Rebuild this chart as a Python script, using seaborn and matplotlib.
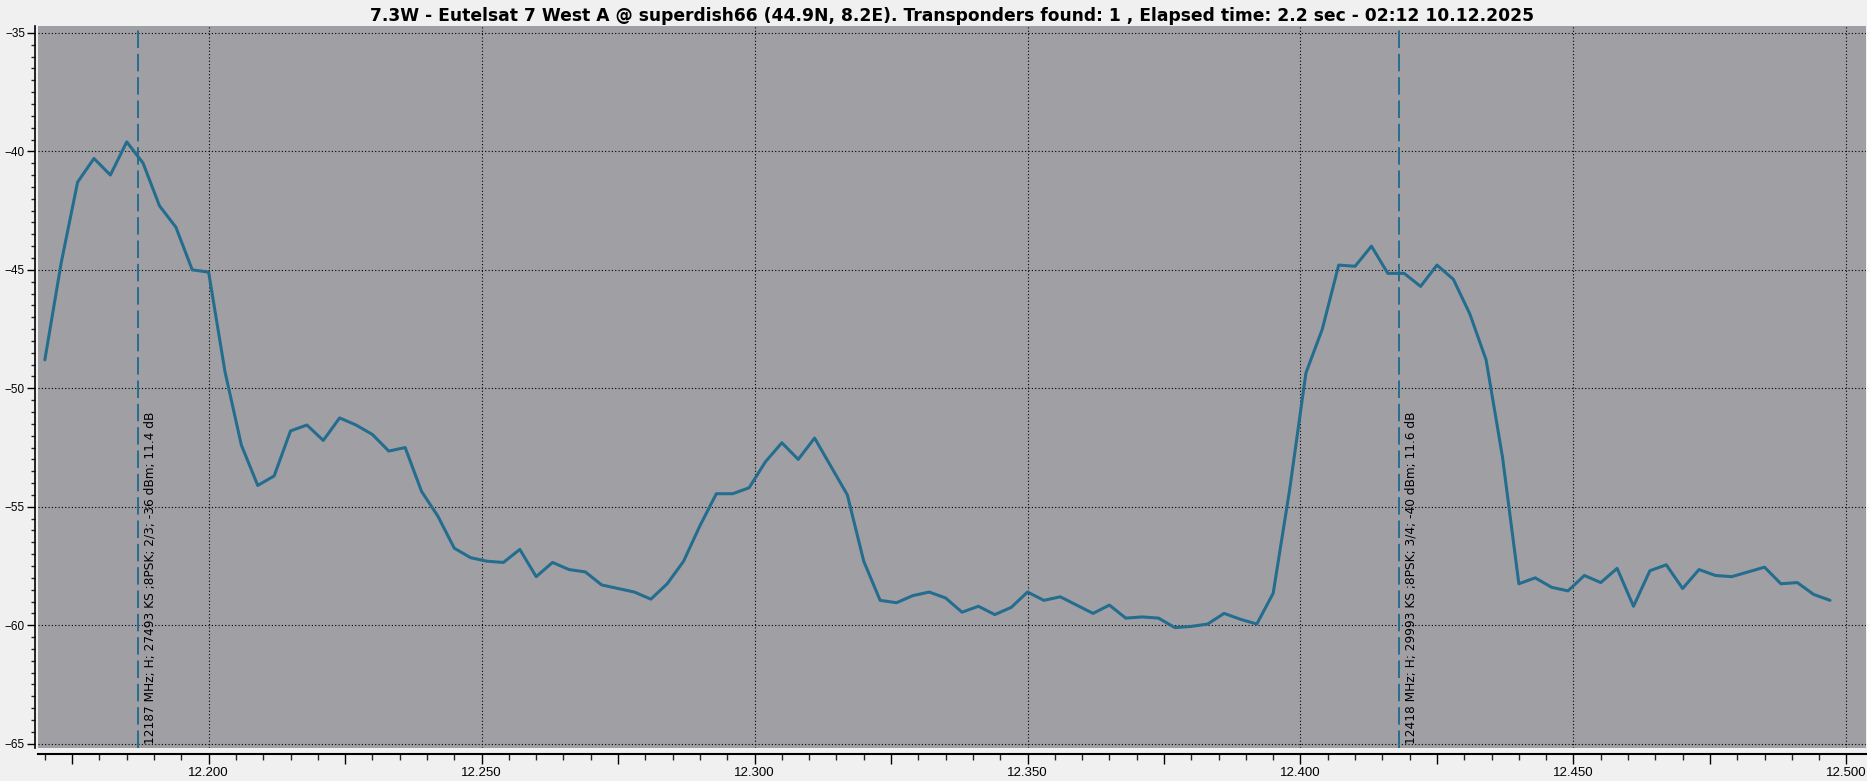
import numpy as np
import pandas as pd
import matplotlib
matplotlib.use("Agg")
import matplotlib.pyplot as plt
import matplotlib.ticker as mticker
import seaborn as sns

freq_mhz = [
    12170, 12173, 12176, 12179, 12182, 12185, 12188, 12191, 12194, 12197,
    12200, 12203, 12206, 12209, 12212, 12215, 12218, 12221, 12224, 12227,
    12230, 12233, 12236, 12239, 12242, 12245, 12248, 12251, 12254, 12257,
    12260, 12263, 12266, 12269, 12272, 12275, 12278, 12281, 12284, 12287,
    12290, 12293, 12296, 12299, 12302, 12305, 12308, 12311, 12314, 12317,
    12320, 12323, 12326, 12329, 12332, 12335, 12338, 12341, 12344, 12347,
    12350, 12353, 12356, 12359, 12362, 12365, 12368, 12371, 12374, 12377,
    12380, 12383, 12386, 12389, 12392, 12395, 12398, 12401, 12404, 12407,
    12410, 12413, 12416, 12419, 12422, 12425, 12428, 12431, 12434, 12437,
    12440, 12443, 12446, 12449, 12452, 12455, 12458, 12461, 12464, 12467,
    12470, 12473, 12476, 12479, 12482, 12485, 12488, 12491, 12494, 12497,
]
level_dbm = [
    -48.8, -44.7, -41.3, -40.3, -41.0, -39.6, -40.5, -42.3, -43.2, -45.0,
    -45.1, -49.3, -52.4, -54.1, -53.7, -51.8, -51.55, -52.2, -51.25, -51.55,
    -51.95, -52.65, -52.5, -54.35, -55.4, -56.75, -57.15, -57.3, -57.35, -56.8,
    -57.95, -57.35, -57.65, -57.75, -58.3, -58.45, -58.6, -58.9, -58.25, -57.3,
    -55.8, -54.45, -54.45, -54.2, -53.1, -52.3, -53.0, -52.1, -53.3, -54.5,
    -57.3, -58.95, -59.05, -58.75, -58.6, -58.85, -59.45, -59.2, -59.55, -59.25,
    -58.6, -58.95, -58.8, -59.15, -59.5, -59.15, -59.7, -59.65, -59.7, -60.1,
    -60.05, -59.95, -59.5, -59.75, -59.95, -58.65, -54.3, -49.35, -47.5, -44.8,
    -44.85, -44.0, -45.15, -45.15, -45.7, -44.8, -45.4, -46.85, -48.8, -52.9,
    -58.25, -58.0, -58.4, -58.55, -57.9, -58.2, -57.6, -59.2, -57.7, -57.45,
    -58.45, -57.65, -57.9, -57.95, -57.75, -57.55, -58.25, -58.2, -58.7, -58.95,
]

tp_freq_mhz = [12187, 12418]
tp_labels = [
    "12187 MHz; H; 27493 KS ;8PSK; 2/3; -36 dBm; 11.4 dB",
    "12418 MHz; H; 29993 KS ;8PSK; 3/4; -40 dBm; 11.6 dB",
]

title = ("7.3W - Eutelsat 7 West A @ superdish66 (44.9N, 8.2E). Transponders found: 1 , "
         "Elapsed time: 2.2 sec - 02:12 10.12.2025")

LINE_COLOR = "#256d8f"
PLOT_BG = "#a0a0a4"
FIG_BG = "#f0f0f0"

sns.set_theme(style="ticks")
plt.rcParams['font.family'] = ['Liberation Sans', 'DejaVu Sans']

df = pd.DataFrame({"freq": np.array(freq_mhz) / 1000.0, "level": level_dbm})

fig = plt.figure(figsize=(18.67, 7.81), dpi=100, facecolor=FIG_BG)
ax = fig.add_axes([0.0201, 0.0423, 0.9794, 0.9244])
ax.set_facecolor(PLOT_BG)

sns.lineplot(data=df, x="freq", y="level", ax=ax, color=LINE_COLOR, linewidth=2.2,
             zorder=3)

# transponder markers with their labels
for f, lab in zip(tp_freq_mhz, tp_labels):
    ax.axvline(f / 1000.0, color=LINE_COLOR, linewidth=1.4, linestyle=(0, (9, 3)), zorder=2)
    ax.annotate(lab, xy=(f / 1000.0, -65.15), xytext=(4, 2), textcoords="offset points",
                rotation=90, ha="left", va="bottom", fontsize=8.7, color="black",
                family="DejaVu Sans")

ax.set_xlim(12.16866, 12.5036)
ax.set_ylim(-65.18, -34.71)

ax.xaxis.set_major_locator(mticker.MultipleLocator(0.025))
ax.xaxis.set_minor_locator(mticker.MultipleLocator(0.005))
ax.xaxis.set_major_formatter(mticker.FuncFormatter(
    lambda v, p: f"{v:.3f}" if abs(round(v * 1000) % 50) == 0 else ""))
ax.yaxis.set_major_locator(mticker.MultipleLocator(5))
ax.yaxis.set_minor_locator(mticker.MultipleLocator(0.5))

for gx in np.arange(12.2, 12.51, 0.05):
    ax.axvline(gx, color="black", linewidth=0.8, linestyle=(0, (1, 2)), zorder=1)
for gy in range(-65, -34, 5):
    ax.axhline(gy, color="black", linewidth=0.8, linestyle=(0, (1, 2)), zorder=1)

ax.spines["top"].set_visible(False)
ax.spines["right"].set_visible(False)
ax.spines["left"].set_position(("outward", 2))
ax.spines["bottom"].set_position(("outward", 4))
ax.spines["left"].set_color("black")
ax.spines["bottom"].set_color("black")
ax.spines["left"].set_linewidth(1.2)
ax.spines["bottom"].set_linewidth(1.5)

ax.tick_params(axis="x", which="major", length=7, width=1, labelsize=9.5, pad=3, colors="black")
ax.tick_params(axis="x", which="minor", length=4, width=1)
ax.tick_params(axis="y", which="major", length=6, width=1, labelsize=8.5, pad=1, colors="black")
ax.tick_params(axis="y", which="minor", length=3, width=1)

ax.set_xlabel("")
ax.set_ylabel("")
ax.set_title(title, fontsize=12.3, fontweight="bold", pad=3.6, family="DejaVu Sans",
             color="black")

fig.savefig("out.png", dpi=100, facecolor=FIG_BG)
